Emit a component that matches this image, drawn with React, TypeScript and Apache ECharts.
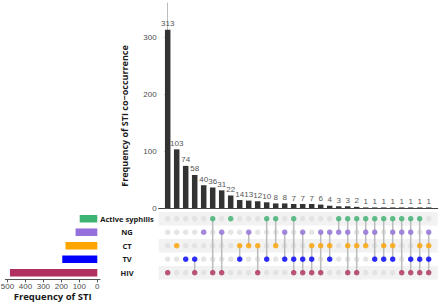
import React, { useEffect, useRef } from "react";
import * as echarts from "echarts";

// Sets, top to bottom in the matrix
const setNames = ["Active syphilis", "NG", "CT", "TV", "HIV"];
const setColors = ["#3CB371", "#9370DB", "#FFA500", "#0000FF", "#B03060"];

// Intersections (columns, left to right)
const intersectionCounts = [313, 103, 74, 58, 40, 36, 31, 22, 14, 13, 12, 10, 8, 8, 7, 7, 7, 6, 4, 3, 3, 2, 1, 1, 1, 1, 1, 1, 1, 1];
const intersectionSets: string[][] = [
  ["HIV"],
  ["CT"],
  ["TV"],
  ["TV", "HIV"],
  ["NG"],
  ["Active syphilis", "HIV"],
  ["NG", "HIV"],
  ["Active syphilis"],
  ["CT", "TV"],
  ["NG", "CT"],
  ["CT", "HIV"],
  ["Active syphilis", "TV"],
  ["Active syphilis", "CT"],
  ["NG", "TV"],
  ["Active syphilis", "TV", "HIV"],
  ["NG", "TV", "HIV"],
  ["CT", "TV", "HIV"],
  ["NG", "CT", "HIV"],
  ["NG", "CT", "TV"],
  ["Active syphilis", "NG"],
  ["Active syphilis", "NG", "CT", "HIV"],
  ["Active syphilis", "CT", "HIV"],
  ["Active syphilis", "NG", "CT"],
  ["Active syphilis", "NG", "TV"],
  ["Active syphilis", "CT", "TV"],
  ["Active syphilis", "NG", "CT", "TV"],
  ["Active syphilis", "NG", "HIV"],
  ["Active syphilis", "NG", "TV", "HIV"],
  ["Active syphilis", "CT", "TV", "HIV"],
  ["NG", "CT", "TV", "HIV"],
];

const topTicks = [0, 100, 200, 300];
const setTicks = [0, 100, 200, 300, 400, 500];

const numFont = "'Liberation Sans', Arial, sans-serif";
const boldFont = "'Open Sans', 'Liberation Sans', sans-serif";

export default function App() {
  const ref = useRef<HTMLDivElement>(null);

  useEffect(() => {
    if (!ref.current) return;
    const chart = echarts.init(ref.current, undefined, { renderer: "svg" });

    // rows bottom-to-top for category y axes
    const rows = [...setNames].reverse();
    const rowColors = [...setColors].reverse();
    const setSizes = rows.map((s) =>
      intersectionCounts.reduce((acc, c, i) => acc + (intersectionSets[i].includes(s) ? c : 0), 0)
    );

    const greyDots: number[][] = [];
    intersectionCounts.forEach((_, i) => rows.forEach((_, r) => greyDots.push([i, r])));

    const activeDots: any[] = [];
    const lines: number[][] = [];
    intersectionSets.forEach((sets, i) => {
      const idx = sets.map((s) => rows.indexOf(s));
      idx.forEach((r) => activeDots.push({ value: [i, r], itemStyle: { color: rowColors[r] } }));
      lines.push([i, Math.min(...idx), Math.max(...idx)]);
    });

    const gLeft = 158.7;
    const gWidth = 279;
    const mTop = 212;
    const mHeight = 67.4;

    chart.setOption({
      animation: false,
      grid: [
        { left: gLeft, top: 3, width: gWidth, height: 205, containLabel: false, outerBoundsMode: "none" },
        { left: gLeft, top: mTop, width: gWidth, height: mHeight, containLabel: false, outerBoundsMode: "none" },
        { left: 5.3, top: mTop, width: 94.7, height: mHeight, containLabel: false, outerBoundsMode: "none" },
      ],
      xAxis: [
        {
          gridIndex: 0, type: "value", min: -1, max: 30,
          axisLine: { show: true, onZero: false, lineStyle: { color: "#444", width: 1 } },
          axisTick: { show: false }, axisLabel: { show: false }, splitLine: { show: false },
        },
        {
          gridIndex: 1, type: "value", min: -1, max: 30,
          axisLine: { show: false }, axisTick: { show: false }, axisLabel: { show: false }, splitLine: { show: false },
        },
        {
          gridIndex: 2, type: "value", min: -15, max: 512, inverse: true,
          axisLine: { show: true, onZero: false, lineStyle: { color: "#555", width: 1 } },
          axisTick: { show: true, length: 3, customValues: setTicks, lineStyle: { color: "#555" } },
          axisLabel: { show: true, customValues: setTicks, fontSize: 8, color: "#4d4d4d", fontFamily: numFont, margin: 3 },
          splitLine: { show: false },
          name: "Frequency of STI", nameLocation: "middle", nameGap: 11,
          nameTextStyle: { fontSize: 9.5, fontWeight: "bold", color: "#1a1a1a", fontFamily: boldFont },
        },
      ],
      yAxis: [
        {
          gridIndex: 0, type: "value", min: 0, max: 360, interval: 100,
          axisLine: { show: true, lineStyle: { color: "#bdbdbd", width: 1 } },
          axisTick: { show: true, length: 3, lineStyle: { color: "#555" }, customValues: topTicks },
          axisLabel: { fontSize: 8, color: "#4d4d4d", fontFamily: numFont, margin: 2, customValues: topTicks },
          splitLine: { show: false },
        },
        {
          gridIndex: 1, type: "category", data: rows,
          axisLine: { show: false }, axisTick: { show: false },
          axisLabel: {
            show: true, align: "center", margin: 31.7, fontSize: 7.5, fontWeight: "bold",
            color: "#1a1a1a", fontFamily: boldFont,
          },
          splitLine: { show: false },
          splitArea: { show: true, areaStyle: { color: ["#f2f2f2", "#ffffff"] } },
        },
        {
          gridIndex: 2, type: "category", data: rows,
          axisLine: { show: false }, axisTick: { show: false }, axisLabel: { show: false },
        },
      ],
      graphic: [
        {
          type: "text", x: 124, y: 116, rotation: Math.PI / 2,
          style: {
            text: "Frequency of STI co\u2212occurrence", fill: "#1a1a1a",
            font: `bold 9px ${boldFont}`, align: "center", verticalAlign: "middle",
          },
        },
      ],
      series: [
        {
          type: "bar", xAxisIndex: 0, yAxisIndex: 0, barWidth: 5.5,
          data: intersectionCounts.map((c, i) => [i, c]),
          itemStyle: { color: "#333333" },
          label: { show: true, position: "top", distance: 2, fontSize: 8, color: "#555", fontFamily: numFont },
        },
        {
          type: "scatter", xAxisIndex: 1, yAxisIndex: 1, symbolSize: 5.5,
          data: greyDots, itemStyle: { color: "#dedede" }, silent: true, z: 2,
        },
        {
          type: "custom", xAxisIndex: 1, yAxisIndex: 1, z: 3,
          data: lines,
          renderItem: (params: any, api: any) => {
            const p1 = api.coord([api.value(0), api.value(1)]);
            const p2 = api.coord([api.value(0), api.value(2)]);
            return {
              type: "line",
              shape: { x1: p1[0], y1: p1[1], x2: p2[0], y2: p2[1] },
              style: { stroke: "#bcbcbc", lineWidth: 1.5 },
            };
          },
        },
        {
          type: "scatter", xAxisIndex: 1, yAxisIndex: 1, symbolSize: 5.5,
          data: activeDots, z: 4,
        },
        {
          type: "bar", xAxisIndex: 2, yAxisIndex: 2, barWidth: 7.5,
          data: setSizes.map((v, r) => ({ value: v, itemStyle: { color: rowColors[r] } })),
        },
      ],
    });

    return () => chart.dispose();
  }, []);

  return (
    <div
      ref={ref}
      style={{ position: "fixed", left: 0, top: 0, width: 440, height: 304, background: "#fff" }}
    />
  );
}
